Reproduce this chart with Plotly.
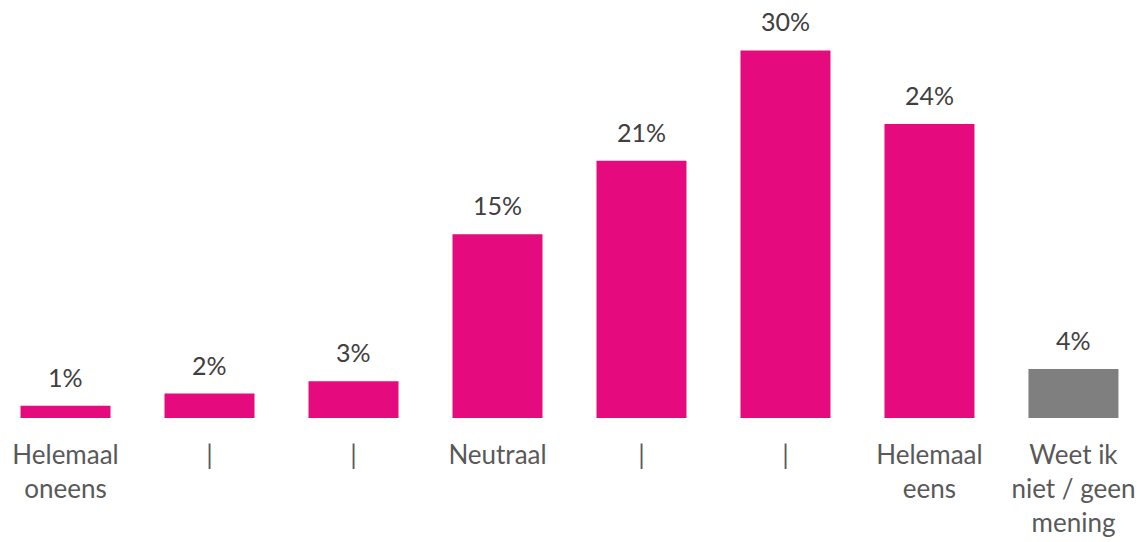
import plotly.graph_objects as go

# Answer scale, share of respondents (%) per answer
categories = ["Helemaal<br>oneens", "|", "|", "Neutraal", "|", "|",
              "Helemaal<br>eens", "Weet ik<br>niet / geen<br>mening"]
values = [1, 2, 3, 15, 21, 30, 24, 4]
value_labels = ["1%", "2%", "3%", "15%", "21%", "30%", "24%", "4%"]

PINK = "#E50A7E"
GREY = "#7F7F7F"
bar_colors = [PINK] * 7 + [GREY]

x = list(range(len(categories)))

fig = go.Figure(
    go.Bar(
        x=x,
        y=values,
        marker=dict(color=bar_colors, line=dict(width=0)),
        width=0.625,
        hoverinfo="skip",
    )
)

for xi, v, lab in zip(x, values, value_labels):
    fig.add_annotation(
        x=xi, y=v, text=lab, showarrow=False,
        yanchor="bottom", yshift=12,
        font=dict(family="Lato, Open Sans, sans-serif", size=25, color="#404040"),
    )

fig.update_layout(
    width=1142,
    height=542,
    margin=dict(l=0, r=0, t=0, b=124),
    paper_bgcolor="white",
    plot_bgcolor="white",
    showlegend=False,
    xaxis=dict(
        range=[-0.455, 7.476],
        tickmode="array",
        tickvals=x,
        ticktext=categories,
        showgrid=False,
        zeroline=False,
        showline=False,
        ticks="outside",
        ticklen=14,
        tickcolor="rgba(0,0,0,0)",
        tickfont=dict(family="Lato, Open Sans, sans-serif", size=26, color="#595959"),
        fixedrange=True,
    ),
    yaxis=dict(
        range=[0, 34.12],
        visible=False,
        showgrid=False,
        zeroline=False,
        fixedrange=True,
    ),
)

fig.write_html("out.html")
